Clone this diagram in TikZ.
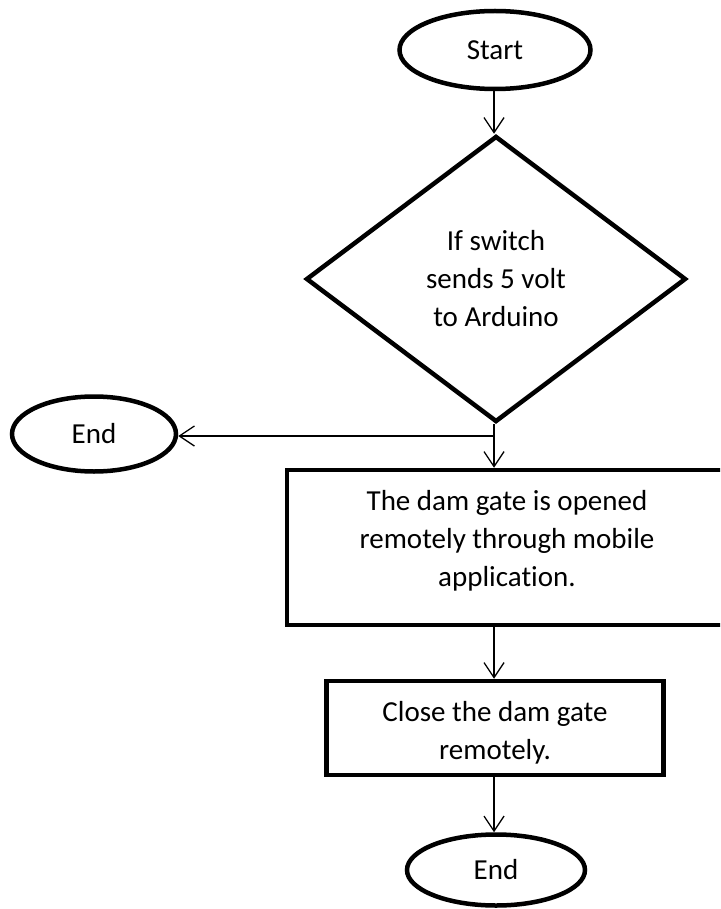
\documentclass[tikz,border=0pt]{standalone}
\usepackage{fontspec}
\setmainfont{Carlito}[Ligatures=CommonOff]
\usetikzlibrary{shapes.geometric,arrows.meta}

\tikzset{
  shape line/.style={draw=black, line width=4.5pt, fill=white},
  terminal/.style={shape line, ellipse, inner sep=0pt},
  decision/.style={shape line, diamond, inner sep=0pt},
  process/.style={shape line, rectangle, inner sep=0pt},
  label text/.style={align=center, inner sep=0pt, font=\fontsize{29}{38}\selectfont},
  flow/.style={draw=black, line width=1.3pt,
    -{Straight Barb[length=15pt,width=20pt,line width=1.3pt]}},
}

\begin{document}
\begin{tikzpicture}[x=1pt, y=-1pt]
  \useasboundingbox (0,0) rectangle (720,909);
  \clip (0,0) rectangle (720,909);

  % terminals
  \node[terminal, minimum width=191pt, minimum height=78pt, label text] (start) at (495,50) {Start};
  \node[terminal, minimum width=164pt, minimum height=75pt, label text] (endleft) at (94,434) {End};
  \node[terminal, minimum width=178pt, minimum height=71pt, label text] (endbottom) at (496,870) {End};

  % decision
  \node[decision, minimum width=380pt, minimum height=286pt, label text] (check) at (496,279)
    {If switch\\sends 5 volt\\to Arduino};

  % processes
  \node[process, minimum width=440pt, minimum height=155pt] (gate) at (507,547.5) {};
  \node[label text] (gatetext) at (507,541)
    {The dam gate is opened\\remotely through mobile\\application.};

  \node[process, minimum width=337pt, minimum height=94pt] (close) at (495,728) {};
  \node[label text] (closetext) at (495,733) {Close the dam gate\\remotely.};

  % connectors
  \coordinate (split) at (494,436);
  \draw[flow] (start.south -| 494,0) -- (check.north -| 494,0);
  \draw[line width=1.3pt] (check.south -| 494,0) -- (split);
  \draw[flow] (split) -- (gate.north -| 494,0);
  \draw[flow] (split) -- (endleft.east |- split);
  \draw[flow] (gate.south -| 494,0) -- (close.north -| 494,0);
  \draw[flow] (close.south -| 494,0) -- (endbottom.north -| 494,0);
\end{tikzpicture}
\end{document}
